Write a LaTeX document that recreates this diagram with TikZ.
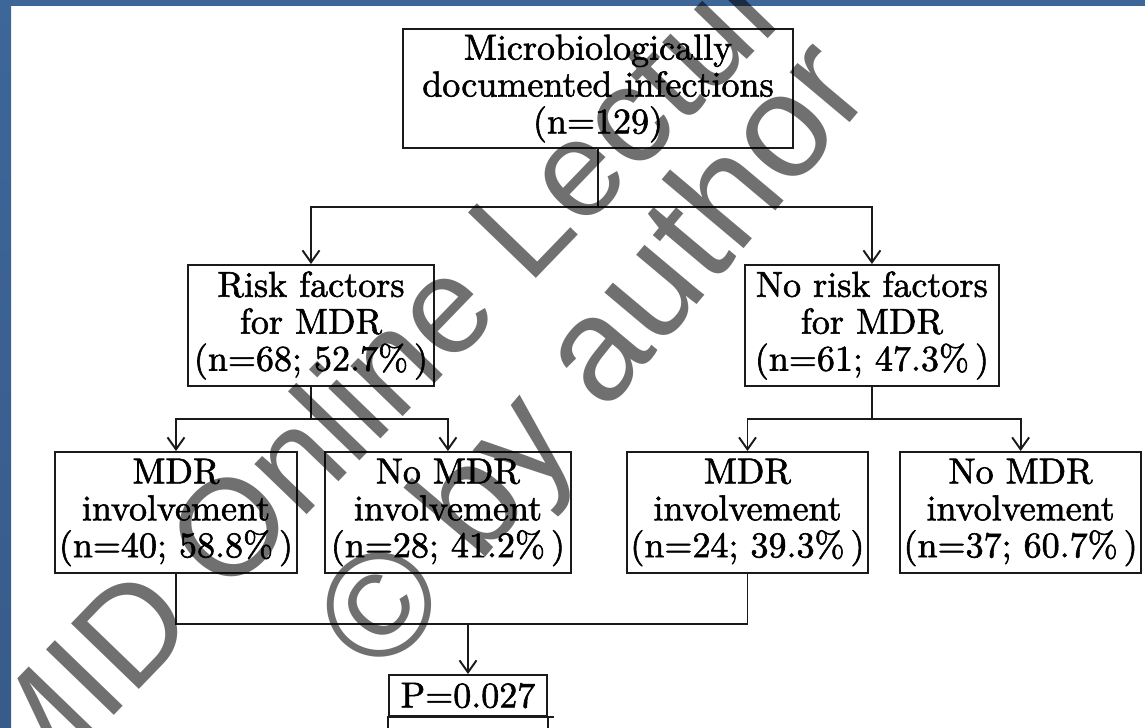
\documentclass[tikz,border=0pt]{standalone}
\usepackage{fontspec}
\newfontfamily\wmfont{Liberation Sans}
\newfontfamily\boxfont{lmroman10-regular.otf}[FakeBold=1.6]
\usepackage{xcolor}
\usepackage{tikz}
\usetikzlibrary{arrows.meta,positioning}
\definecolor{frameblue}{HTML}{3D6699}
\definecolor{framelight}{HTML}{4A7EBE}
\definecolor{linegray}{HTML}{1A1A1A}

\begin{document}
\begin{tikzpicture}[
  node distance=0.52cm and 0.52cm,
  block/.style={
    rectangle,
    draw=linegray,
    line width=1.1pt,
    fill=white,
    align=center,
    inner sep=2pt,
    minimum height=2.42cm,
    font=\boxfont\fontsize{20.5}{21}\selectfont
  },
  arrow/.style={-{Straight Barb[length=2.4mm,width=3.4mm]}, line width=1.1pt, draw=linegray},
  link/.style={line width=1.1pt, draw=linegray},
  watermark/.style={
    anchor=base,
    inner sep=0pt,
    text=black,
    text opacity=0.56,
    font=\wmfont\fontsize{78}{84}\selectfont
  }
]

\useasboundingbox (0,0) rectangle (22.9,14.56);
\clip (0,0) rectangle (22.9,14.56);

% slide frame
\fill[frameblue] (0,14.44) rectangle (22.9,14.56);
\shade[top color=frameblue, middle color=framelight, bottom color=frameblue!90!black] (0,0) rectangle (0.22,14.56);

\node[block, minimum width=7.8cm, minimum height=2.38cm] (micro) at (11.96,12.79) {Microbiologically\\documented infections\\(n=129)};

\node[block, minimum width=4.92cm] (risk) at (6.22,8.05) {Risk factors\\for MDR\\(n=68; 52.7\%\,)};
\node[block, minimum width=5.08cm, right=6.18cm of risk] (norisk) {No risk factors\\for MDR\\(n=61; 47.3\%\,)};

\node[block, minimum width=4.84cm] (mdrrisk) at (3.52,4.31) {MDR\\involvement\\(n=40; 58.8\%\,)};
\node[block, minimum width=4.92cm, right=of mdrrisk] (nomdrrisk) {No MDR\\involvement\\(n=28; 41.2\%\,)};
\node[block, minimum width=4.7cm, right=1.08cm of nomdrrisk] (mdrnorisk) {MDR\\involvement\\(n=24; 39.3\%\,)};
\node[block, minimum width=4.72cm, right=0.6cm of mdrnorisk] (nomdrnorisk) {No MDR\\involvement\\(n=37; 60.7\%\,)};

\node[block, minimum width=3.16cm, minimum height=0.82cm] (pval) at (9.36,0.65) {P=0.027};

% first split
\draw[link] (micro.south) -- ++(0,-1.16) coordinate (split);
\draw[arrow] (split) -| (risk.north);
\draw[arrow] (split) -| (norisk.north);

% second splits
\draw[link] (risk.south) -- ++(0,-0.64) coordinate (splitrisk);
\draw[arrow] (splitrisk) -| (mdrrisk.north);
\draw[arrow] (splitrisk) -| (nomdrrisk.north);
\draw[link] (norisk.south) -- ++(0,-0.64) coordinate (splitnorisk);
\draw[arrow] (splitnorisk) -| (mdrnorisk.north);
\draw[arrow] (splitnorisk) -| (nomdrnorisk.north);

% comparison
\draw[link] (mdrrisk.south) -- ++(0,-1) coordinate (join) -| (mdrnorisk.south);
\draw[arrow] (join -| pval.north) -- (pval.north);
\draw[link, line width=1.6pt] ([xshift=-0.03cm]pval.south west) -- ([xshift=0.12cm]pval.south east);
\draw[link] (pval.south west) -- ++(0,-0.4);
\draw[link] (pval.south east) -- ++(0,-0.4);

% watermark
\node[watermark, rotate=46] (wmline) at (8.72,6.92) {MID Online Lecture};
\node[watermark, rotate=50, font=\wmfont\fontsize{84}{90}\selectfont] (wmcredit) at (12.58,6.84) {© by author};

\end{tikzpicture}
\end{document}
